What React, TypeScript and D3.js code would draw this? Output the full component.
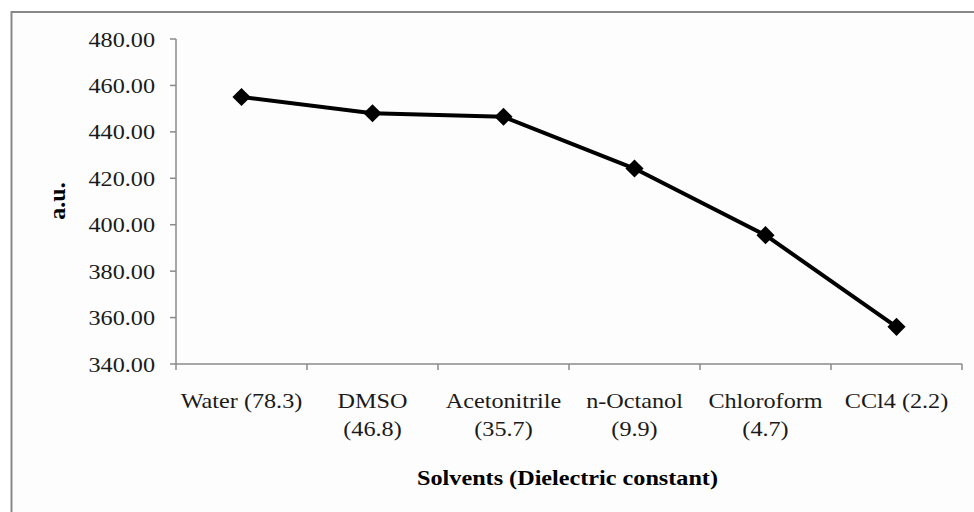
import React from "react";
import * as d3 from "d3";

const categories: string[][] = [
  ["Water (78.3)"],
  ["DMSO", "(46.8)"],
  ["Acetonitrile", "(35.7)"],
  ["n-Octanol", "(9.9)"],
  ["Chloroform", "(4.7)"],
  ["CCl4 (2.2)"],
];
const values: number[] = [455, 448, 446.5, 424.2, 395.5, 356];
const yTicks: number[] = [340, 360, 380, 400, 420, 440, 460, 480];
const xTitle = "Solvents (Dielectric constant)";
const yTitle = "a.u.";

const W = 974;
const H = 512;
const FONT = "'Liberation Serif', 'Times New Roman', serif";
const SX = 1.1;

export default function App() {
  const keys = categories.map((c) => c.join(" "));
  const x = d3.scaleBand<string>().domain(keys).range([176, 962]).padding(0);
  const y = d3.scaleLinear().domain([340, 480]).range([364, 39]);
  const line = d3
    .line<number>()
    .x((_, i) => (x(keys[i]) as number) + x.bandwidth() / 2)
    .y((d) => y(d));
  const axisColor = "#8a8a8a";
  const boundaries = d3.range(keys.length + 1).map((i) => 176 + i * x.bandwidth());
  const diamond = d3.symbol().type(d3.symbolDiamond2).size(210);

  return (
    <svg
      width={W}
      height={H}
      style={{ position: "absolute", left: 0, top: 0, background: "#ffffff" }}
    >
      <rect x={11.5} y={12} width={W + 20} height={H + 20} fill="#fdfdfd" stroke="#888" strokeWidth={2} />
      {/* Y axis */}
      <line x1={176} x2={176} y1={y(480)} y2={y(340)} stroke={axisColor} strokeWidth={1.5} />
      {yTicks.map((t) => (
        <g key={t}>
          <line x1={170} x2={176} y1={y(t)} y2={y(t)} stroke={axisColor} strokeWidth={1.5} />
          <g transform={`translate(155,${y(t) + 7.5}) scale(${SX},1)`}>
            <text textAnchor="end" fontFamily={FONT} fontSize={22} fill="#1a1a1a">
              {t.toFixed(2)}
            </text>
          </g>
        </g>
      ))}
      {/* X axis */}
      <line x1={176} x2={962} y1={y(340)} y2={y(340)} stroke={axisColor} strokeWidth={1.5} />
      {boundaries.map((b, i) => (
        <line key={i} x1={b} x2={b} y1={y(340)} y2={y(340) + 6} stroke={axisColor} strokeWidth={1.5} />
      ))}
      {categories.map((c, i) => {
        const cx = (x(keys[i]) as number) + x.bandwidth() / 2;
        return c.map((ln, j) => (
          <g key={`${i}-${j}`} transform={`translate(${cx},${408 + j * 28}) scale(${SX},1)`}>
            <text textAnchor="middle" fontFamily={FONT} fontSize={22} fill="#1a1a1a">
              {ln}
            </text>
          </g>
        ));
      })}
      {/* line */}
      <path d={line(values) as string} fill="none" stroke="#000" strokeWidth={4} strokeLinejoin="round" />
      {values.map((v, i) => (
        <path
          key={i}
          d={diamond() as string}
          transform={`translate(${(x(keys[i]) as number) + x.bandwidth() / 2},${y(v)})`}
          fill="#000"
        />
      ))}
      {/* titles */}
      <g transform={`translate(567.5,485) scale(${SX},1)`}>
        <text textAnchor="middle" fontFamily={FONT} fontSize={22} fontWeight="bold" fill="#000">
          {xTitle}
        </text>
      </g>
      <g transform={`translate(65,201) rotate(-90)`}>
        <text textAnchor="middle" fontFamily={FONT} fontSize={24} fontWeight="bold" fill="#000">
          {yTitle}
        </text>
      </g>
    </svg>
  );
}
